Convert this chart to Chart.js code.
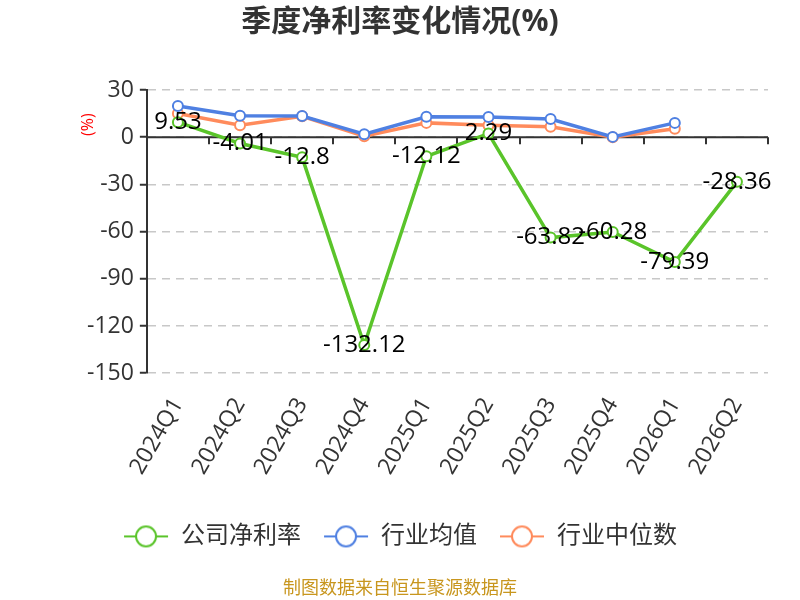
<!DOCTYPE html>
<html>
<head>
<meta charset="utf-8">
<script src="https://cdn.jsdelivr.net/npm/chart.js@4/dist/chart.umd.min.js"></script>
<style>
  html, body { margin: 0; padding: 0; background: #fff; }
  #wrap { width: 800px; height: 600px; position: relative; }
</style>
</head>
<body>
<div id="wrap"><canvas id="rateChart" width="800" height="600"></canvas></div>
<script>
const quarters = ['2024Q1', '2024Q2', '2024Q3', '2024Q4', '2025Q1', '2025Q2', '2025Q3', '2025Q4', '2026Q1', '2026Q2'];
const companyRate = [9.53, -4.01, -12.8, -132.12, -12.12, 2.29, -63.82, -60.28, -79.39, -28.36];
const industryAvg = [19.8, 13.6, 13.4, 1.9, 13.0, 12.8, 11.5, 0.2, 9.1, null];
const industryMedian = [15.1, 7.6, 13.3, 0.6, 9.1, 7.6, 6.6, 0.0, 5.3, null];
const yTicks = [30, 0, -30, -60, -90, -120, -150];

const fontFamily = '"Open Sans", "Noto Sans CJK SC", sans-serif';
const colors = ['#5ac42a', '#4f80e2', '#ff8b5c'];

// legend marker: short line with a hollow circle through it
function legendMarker(color) {
    const c = document.createElement('canvas');
    c.width = 46; c.height = 24;
    const g = c.getContext('2d');
    g.strokeStyle = color;
    g.lineWidth = 2;
    g.beginPath(); g.moveTo(1, 12); g.lineTo(45, 12); g.stroke();
    g.fillStyle = '#fff';
    g.beginPath(); g.arc(23, 12, 10, 0, Math.PI * 2); g.fill(); g.stroke();
    return c;
}

const valueLabels = {
    id: 'valueLabels',
    afterDatasetsDraw(chart) {
        const ctx = chart.ctx;
        const meta = chart.getDatasetMeta(0);
        ctx.save();
        ctx.font = '24px ' + fontFamily;
        ctx.fillStyle = '#000';
        ctx.textAlign = 'center';
        ctx.textBaseline = 'middle';
        meta.data.forEach((pt, i) => {
            ctx.fillText(String(companyRate[i]), pt.x, pt.y);
        });
        ctx.restore();
    }
};

// zero line with category ticks, plus the red unit label
const axisExtras = {
    id: 'axisExtras',
    beforeDatasetsDraw(chart) {
        const ctx = chart.ctx;
        const x = chart.scales.x;
        const y = chart.scales.y;
        const area = chart.chartArea;
        const y0 = y.getPixelForValue(0);
        const step = x.getPixelForValue(1) - x.getPixelForValue(0);
        ctx.save();
        ctx.strokeStyle = '#333';
        ctx.lineWidth = 2;
        ctx.beginPath();
        ctx.moveTo(area.left, y0);
        ctx.lineTo(area.right, y0);
        for (let i = 0; i <= quarters.length; i++) {
            const px = Math.round(x.getPixelForValue(i) - step / 2);
            ctx.moveTo(px, y0);
            ctx.lineTo(px, y0 + 7);
        }
        ctx.stroke();
        ctx.restore();
    },
    afterDraw(chart) {
        const ctx = chart.ctx;
        const y = chart.scales.y;
        ctx.save();
        ctx.translate(88, y.getPixelForValue(8));
        ctx.rotate(-Math.PI / 2);
        ctx.font = '16px ' + fontFamily;
        ctx.fillStyle = '#ff0000';
        ctx.textAlign = 'center';
        ctx.textBaseline = 'middle';
        ctx.fillText('(%)', 0, 0);
        ctx.restore();
    }
};

new Chart(document.getElementById('rateChart').getContext('2d'), {
    type: 'line',
    data: {
        labels: quarters,
        datasets: [
            { label: '公司净利率', data: companyRate, borderColor: colors[0] },
            { label: '行业均值', data: industryAvg, borderColor: colors[1] },
            { label: '行业中位数', data: industryMedian, borderColor: colors[2] }
        ].map(d => Object.assign(d, {
            borderWidth: 3.5,
            pointRadius: 5,
            pointBorderWidth: 2,
            pointBackgroundColor: '#fff',
            pointBorderColor: d.borderColor,
            tension: 0
        }))
    },
    options: {
        responsive: false,
        animation: false,
        layout: { padding: { left: 32, right: 32, top: 0, bottom: 0 } },
        plugins: {
            title: {
                display: true,
                text: '季度净利率变化情况(%)',
                color: '#333',
                font: { size: 30, weight: 'bold', family: fontFamily },
                padding: { top: 4, bottom: 50 }
            },
            subtitle: {
                display: true,
                position: 'bottom',
                text: '制图数据来自恒生聚源数据库',
                color: '#c8961e',
                font: { size: 18, family: fontFamily },
                padding: { top: 20, bottom: 0 }
            },
            legend: {
                position: 'bottom',
                labels: {
                    color: '#333',
                    font: { size: 24, family: fontFamily },
                    usePointStyle: true,
                    pointStyleWidth: 46,
                    boxHeight: 24,
                    padding: 22,
                    generateLabels(chart) {
                        return chart.data.datasets.map((d, i) => ({
                            text: d.label,
                            pointStyle: legendMarker(colors[i]),
                            fillStyle: '#fff',
                            strokeStyle: colors[i],
                            fontColor: '#333',
                            datasetIndex: i,
                            hidden: false
                        }));
                    }
                }
            },
            tooltip: { enabled: false }
        },
        scales: {
            x: {
                offset: true,
                grid: { display: false },
                border: { display: false },
                afterFit(axis) { axis.height += 11; },
                ticks: {
                    color: '#333',
                    font: { size: 23, family: fontFamily },
                    minRotation: 60,
                    maxRotation: 60,
                    padding: 12
                }
            },
            y: {
                min: -150,
                max: 30,
                afterBuildTicks(axis) {
                    axis.ticks = yTicks.map(v => ({ value: v }));
                },
                afterFit(axis) { axis.width += 49; },
                border: { color: '#333', width: 2, dash: [8, 6] },
                grid: {
                    color: '#c8c8c8',
                    lineWidth: 1.5,
                    tickLength: 7,
                    tickColor: '#333',
                    tickWidth: 2,
                    tickBorderDash: []
                },
                ticks: {
                    color: '#333',
                    font: { size: 23, family: fontFamily },
                    padding: 6
                }
            }
        }
    },
    plugins: [valueLabels, axisExtras]
});
</script>
</body>
</html>
